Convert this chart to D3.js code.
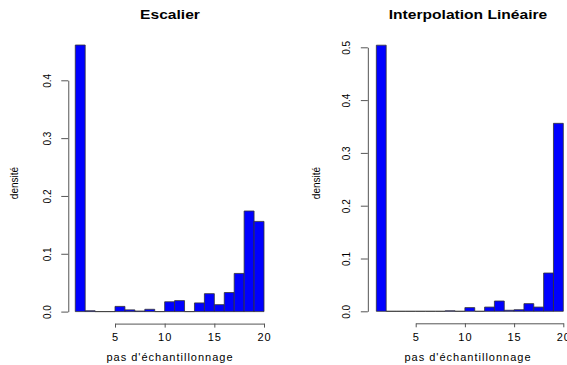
<!DOCTYPE html>
<html>
<head>
<meta charset="utf-8">
<script src="https://cdn.jsdelivr.net/npm/d3@7"></script>
<style>
  body { margin: 0; background: #fff; }
  svg text { font-family: "Liberation Sans", Arial, sans-serif; fill: #000; }
  .bar { fill: #0000ff; stroke: #333; stroke-width: 0.8; }
  .axis path, .axis line { stroke: #555; stroke-width: 1; }
</style>
</head>
<body>
<svg id="chart" width="567" height="365"></svg>
<script>
// histogram bins: [1,2], [2,3], ... [19,20]
const binEdges = d3.range(1, 21);
const xTicks = [5, 10, 15, 20];

// densities, Escalier
const escalierDensity = [0.461, 0.0015, 0, 0, 0.009, 0.003, 0.001, 0.004, 0, 0.017,
                         0.019, 0, 0.015, 0.031, 0.012, 0.033, 0.066, 0.174, 0.156];
const escalierTicks = [0, 0.1, 0.2, 0.3, 0.4];

// densities, Interpolation Lineaire
const lineaireDensity = [0.504, 0, 0, 0, 0, 0, 0, 0.001, 0, 0.007,
                         0, 0.008, 0.0195, 0.002, 0.003, 0.0145, 0.008, 0.0725, 0.356];
const lineaireTicks = [0, 0.1, 0.2, 0.3, 0.4, 0.5];

const svg = d3.select('#chart');

function drawPanel(cfg) {
    const g = svg.append('g');
    const x = d3.scaleLinear().domain([5, 20]).range(cfg.xRange);
    const yMax = cfg.yTicks[cfg.yTicks.length - 1];
    const y = d3.scaleLinear().domain([0, yMax]).range(cfg.yRange);

    const bins = cfg.values.map((v, i) => ({ x0: binEdges[i], x1: binEdges[i + 1], v }));

    // bars as closed paths so empty bins still show as a line on the baseline
    g.selectAll('.bar')
        .data(bins)
        .enter()
        .append('path')
        .attr('class', 'bar')
        .attr('d', d => {
            const p = d3.path();
            p.moveTo(x(d.x0), y(0));
            p.lineTo(x(d.x0), y(d.v));
            p.lineTo(x(d.x1), y(d.v));
            p.lineTo(x(d.x1), y(0));
            p.closePath();
            return p.toString();
        });

    // x axis, offset below the bars like R
    const xAxis = g.append('g')
        .attr('class', 'axis')
        .attr('transform', `translate(0,${y(0) + 12})`)
        .call(d3.axisBottom(x).tickValues(xTicks).tickSize(4).tickSizeOuter(0).tickPadding(6));
    xAxis.selectAll('.tick text')
        .attr('font-size', '11px')
        .style('letter-spacing', '1px');

    // y axis, offset left of the first bin
    const yAxis = g.append('g')
        .attr('class', 'axis')
        .attr('transform', `translate(${x(binEdges[0]) - cfg.yAxisGap},0)`)
        .call(d3.axisLeft(y).tickValues(cfg.yTicks).tickFormat(d3.format('.1f')).tickSize(7).tickSizeOuter(0));
    yAxis.selectAll('.tick text')
        .attr('font-size', '10px')
        .attr('text-anchor', 'middle')
        .attr('x', 0)
        .attr('dy', null)
        .attr('transform', 'translate(-21,0) rotate(-90)')
        .attr('dominant-baseline', 'central');

    // title
    svg.append('text')
        .attr('x', cfg.titleX)
        .attr('y', 19)
        .attr('text-anchor', 'middle')
        .attr('font-size', '12px')
        .attr('font-weight', 'bold')
        .attr('transform', `translate(${cfg.titleX},0) scale(1.3,1) translate(${-cfg.titleX},0)`)
        .text(cfg.title);

    // x label
    svg.append('text')
        .attr('x', cfg.titleX)
        .attr('y', 361)
        .attr('text-anchor', 'middle')
        .attr('font-size', '11px')
        .style('letter-spacing', '1px')
        .text("pas d'échantillonnage");

    // y label
    svg.append('text')
        .attr('transform', `translate(${cfg.yLabelX},183) rotate(-90)`)
        .attr('text-anchor', 'middle')
        .attr('font-size', '10px')
        .attr('dominant-baseline', 'central')
        .text('densité');
}

drawPanel({
    title: 'Escalier',
    values: escalierDensity,
    yTicks: escalierTicks,
    xRange: [115, 264],
    yRange: [311.6, 80.3],
    yAxisGap: 7,
    titleX: 170,
    yLabelX: 14
});

drawPanel({
    title: 'Interpolation Linéaire',
    values: lineaireDensity,
    yTicks: lineaireTicks,
    xRange: [415.7, 563.3],
    yRange: [311.3, 47.3],
    yAxisGap: 8.5,
    titleX: 468,
    yLabelX: 316
});
</script>
</body>
</html>
